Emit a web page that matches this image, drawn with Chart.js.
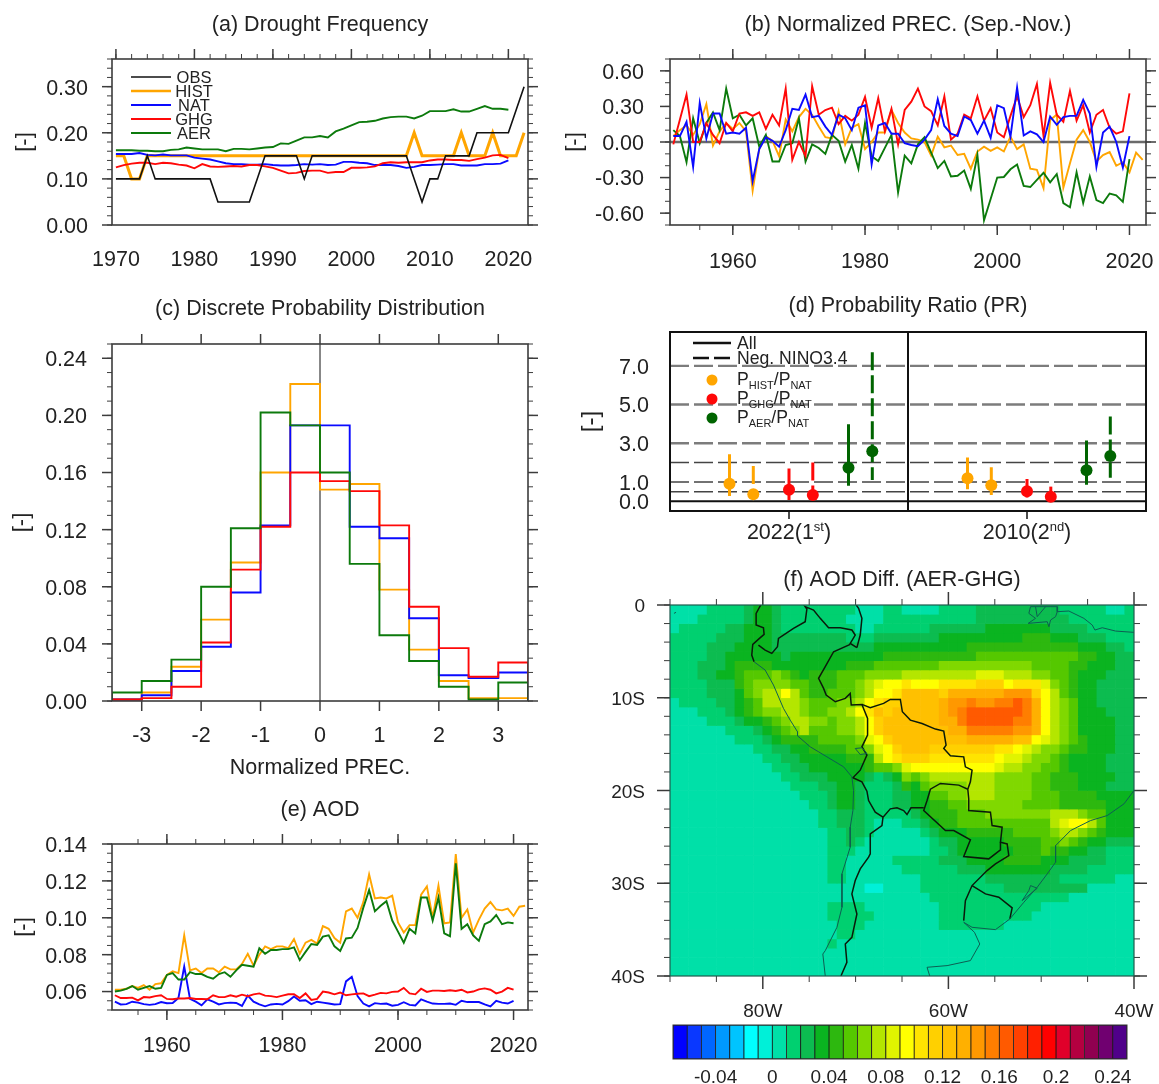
<!DOCTYPE html>
<html><head><meta charset="utf-8">
<style>
html,body{margin:0;padding:0;background:#fff;width:1159px;height:1084px;overflow:hidden}
canvas{position:absolute;filter:blur(0.35px)}
</style>
<script src="https://cdn.jsdelivr.net/npm/chart.js@4/dist/chart.umd.js"></script>
</head><body>
<script>
// ---------- panel (a) Drought Frequency, 1970-2022 ----------
const aStartYear = 1970;
const aOBS = [.10,.10,.10,.10,.15,.10,.10,.10,.10,.10,.10,.10,.10,.05,.05,.05,.05,.05,.10,.15,.15,.15,.15,.15,.10,.15,.15,.15,.15,.15,.15,.15,.15,.15,.15,.15,.15,.15,.10,.05,.10,.10,.15,.15,.15,.15,.20,.20,.20,.20,.20,.25,.30];
const aHIST = [.15,.15,.10,.10,.15,.15,.15,.15,.15,.15,.15,.15,.15,.15,.15,.15,.15,.15,.15,.15,.15,.15,.15,.15,.15,.15,.15,.15,.15,.15,.15,.15,.15,.15,.15,.15,.15,.15,.20,.15,.15,.15,.15,.15,.20,.15,.15,.15,.20,.15,.15,.15,.20];
const aNAT = [.154,.154,.154,.156,.152,.151,.153,.151,.151,.151,.146,.144,.142,.138,.134,.132,.132,.131,.131,.132,.130,.129,.129,.130,.132,.131,.132,.130,.131,.137,.137,.135,.134,.130,.130,.130,.128,.124,.126,.130,.130,.131,.132,.132,.129,.129,.129,.132,.132,.133,.140];
const aGHG = [.125,.130,.133,.135,.135,.132,.135,.134,.131,.129,.123,.132,.127,.126,.127,.128,.127,.130,.130,.127,.124,.118,.112,.113,.117,.118,.118,.113,.115,.115,.124,.124,.125,.127,.134,.136,.135,.136,.136,.136,.140,.142,.142,.141,.141,.139,.143,.146,.151,.152,.145];
const aAER = [.162,.162,.162,.161,.161,.160,.160,.163,.164,.168,.166,.164,.164,.164,.160,.165,.165,.164,.166,.168,.169,.177,.176,.183,.190,.190,.193,.190,.203,.209,.216,.223,.224,.226,.231,.234,.235,.235,.231,.237,.247,.247,.247,.251,.246,.246,.252,.258,.252,.252,.250];
const aXMajor = [1970,1980,1990,2000,2010,2020];
const aYMajor = [0,.1,.2,.3];
const aLegend = ['OBS','HIST','NAT','GHG','AER'];

// ---------- panel (b) Normalized PREC., 1951-2022 ----------
const bStartYear = 1951;
const bHIST = [.05,.10,.14,.06,.15,.32,-.03,.09,.16,.11,.16,.09,-.41,-.06,.05,.01,-.12,.19,.09,.21,.28,.23,.13,.04,.03,.26,-.02,.12,.15,-.06,0,.08,.08,.27,.16,.08,.03,.02,0,-.115,.045,-.045,-.03,-.11,-.10,-.225,-.08,-.04,-.075,-.045,-.08,.045,-.06,-.02,-.225,-.235,-.39,.185,.23,-.385,-.18,.02,.10,0,-.165,-.11,-.085,-.20,-.17,-.255,-.09,-.15];
const bNAT = [.05,.05,.17,-.21,.33,.03,.24,.24,.07,.08,.07,.12,-.33,-.06,.04,.01,-.04,.10,.28,.27,.40,.21,.22,.13,.06,.23,.20,.10,.29,.31,-.19,.14,.16,.07,.07,-.01,-.025,-.035,.02,.10,.36,.135,.07,.05,.215,.185,.07,.18,.035,.31,.285,.045,.46,.055,.09,.065,0,.215,.145,.21,.22,.22,.355,.24,-.21,.08,.13,0,-.215,.05];
const bGHG = [-.02,.19,.40,0,0,.16,.06,-.01,.16,.09,.24,.25,.22,.25,.11,.23,.14,.45,-.15,0,-.12,.47,.23,.27,.29,.15,.22,.18,.23,.38,.12,.37,.09,.28,-.02,.27,.34,.45,.30,.26,.14,.385,.02,.07,.23,.20,.385,.18,.285,.08,.04,.22,.385,.21,.31,.49,.05,.50,.23,.17,.43,.18,.31,.08,.23,.27,.12,.07,.09,.41];
const bAER = [.10,.05,-.17,.20,-.01,.16,.25,.10,.45,.20,.23,.14,.20,-.04,.06,-.165,-.165,-.025,-.01,.20,-.165,-.02,-.05,-.10,.06,.01,-.165,-.025,-.225,.16,-.12,-.16,-.05,.06,-.425,-.115,-.18,-.02,.04,-.09,-.22,-.16,-.29,-.285,-.24,-.395,-.11,-.66,-.48,-.30,-.295,-.23,-.19,-.37,-.38,-.32,-.26,-.34,-.27,-.515,-.55,-.255,-.515,-.29,-.49,-.515,-.435,-.45,-.505,-.145];
const bXMajor = [1960,1980,2000,2020];
const bYMajor = [-.6,-.3,0,.3,.6];

// ---------- panel (c) Discrete Probability Distribution ----------
const cEdges = [-3.5,-3,-2.5,-2,-1.5,-1,-.5,0,.5,1,1.5,2,2.5,3,3.5];
const cHIST = [.001,.006,.024,.057,.097,.160,.222,.148,.152,.078,.036,.014,.002,.002];
const cNAT  = [.001,.004,.021,.038,.076,.123,.193,.193,.122,.114,.058,.018,.016,.020];
const cGHG  = [.001,.002,.010,.041,.092,.122,.160,.154,.147,.123,.066,.037,.017,.027];
const cAER  = [.006,.014,.029,.080,.121,.202,.193,.160,.096,.046,.028,.010,.001,.013];
const cXMajor = [-3,-2,-1,0,1,2,3];
const cYMajor = [0,.04,.08,.12,.16,.2,.24];

// ---------- panel (d) Probability Ratio ----------
const dGroups = ['2022','2010'];
const dPos = [.25,.35,.5,.6,.75,.85,1.25,1.35,1.5,1.6,1.75,1.85];
const dBest = [.91,.36,.60,.33,1.74,2.59,1.19,.83,.52,.24,1.60,2.34];
const dLow  = [.28,.15,.07,.10,.81,1.10,.62,.33,.20,.07,.86,1.22];
const dHigh = [2.43,1.83,1.70,2.00,3.98,7.70,2.26,1.76,1.15,.76,3.14,4.38];
const dYTicks = [0,1,3,5,7];
const dRefGrey = [3,5,7];
const dRefDark = [.5,1,2];

// ---------- panel (e) AOD, 1951-2022 ----------
const eStartYear = 1951;
const eHIST = [.061,.061,.0615,.063,.062,.0635,.061,.064,.0645,.069,.071,.070,.0905,.0715,.0725,.070,.0725,.0725,.0705,.0735,.072,.072,.075,.0805,.074,.080,.0845,.083,.0845,.0845,.0835,.0885,.0805,.0865,.088,.086,.0955,.094,.089,.0865,.1035,.105,.100,.1085,.1235,.1105,.111,.1105,.112,.0975,.092,.096,.096,.1125,.117,.100,.1175,.097,.0975,.1345,.100,.1045,.092,.099,.105,.1085,.1045,.104,.105,.101,.106,.1065];
const eNAT = [.0545,.053,.0532,.0545,.054,.0532,.0528,.0532,.0543,.0537,.0538,.0565,.0735,.056,.0545,.0525,.0558,.0545,.053,.0537,.054,.0538,.0522,.0578,.0545,.053,.052,.053,.0533,.053,.0548,.0573,.055,.0553,.0532,.0545,.054,.0535,.053,.0532,.0655,.068,.0575,.0535,.052,.0537,.0533,.0535,.0523,.0528,.0542,.0528,.0525,.0558,.0545,.0535,.0533,.0533,.0535,.0528,.055,.0543,.0543,.0543,.053,.052,.055,.054,.0535,.055];
const eGHG = [.058,.0565,.0565,.0567,.0552,.057,.0568,.0575,.058,.056,.0558,.0563,.0562,.0565,.056,.056,.0558,.058,.057,.057,.058,.0572,.0583,.0575,.0585,.059,.0578,.0575,.057,.0578,.0585,.0585,.0565,.059,.0555,.056,.060,.0595,.0585,.0595,.058,.0585,.0588,.059,.0575,.0583,.0593,.059,.0598,.060,.062,.059,.0585,.0615,.0598,.0605,.0605,.0603,.0607,.0603,.061,.0595,.060,.0612,.0617,.061,.059,.060,.062,.061];
const eAER = [.060,.0605,.0615,.063,.061,.062,.063,.0615,.062,.069,.070,.0665,.0665,.0705,.0695,.0695,.068,.067,.0695,.0705,.068,.0715,.0745,.074,.0735,.0835,.0805,.0825,.0825,.083,.083,.084,.077,.0815,.0858,.0853,.0898,.0905,.0845,.082,.0888,.0892,.0945,.1055,.115,.1035,.1065,.109,.0985,.0925,.0865,.094,.0915,.111,.111,.0985,.111,.0915,.090,.1295,.094,.0965,.0905,.0875,.0965,.098,.1015,.0965,.0975,.097];
const eXMajor = [1960,1980,2000,2020];
const eYMajor = [.06,.08,.10,.12,.14];

// ---------- panel (f) AOD Diff. map: 1-degree cells, 90W-40W, 0-40S ----------
// each row is one latitude band, run-length coded colour-level indices (base 36 into cbColors)
const fRows = [
"7x4 8x4 9 ax2 9 8x8 7x3 8x2 7x4 8x4 9x9 8x5 7x2 8",
"7x3 8x5 9 ax2 9 8x3 8x4 7x4 8x2 8x8 9x10 8x7",
"7 8x5 9x2 ax3 9 8x8 7x2 8x3 8x3 9x6 ax7 9x4 8x5",
"8x5 9x3 ax3 9x8 8x3 9x3 9x4 ax9 bx3 ax3 9x3 8x3",
"8x4 9x3 ax4 9x11 ax3 ax7 bx12 ax3 9x2 8",
"8x4 9x2 ax6 9 ax10 bx2 bx8 cx11 bx2 ax2 9x2",
"8x3 9x3 a bx4 ax8 bx3 cx3 cx4 dx10 cx4 bx2 ax3 9x2",
"8x3 9x2 ax2 b cx3 d c b a bx3 cx3 d dx3 ex8 fx3 ex3 dx2 cx2 b ax3 9x3",
"8x4 9x3 b c dx2 dx2 cx2 b bx2 cx2 d e f gx2 h gx3 hx4 ix3 g hx3 f d c b ax2 9x4",
"8x4 9x3 a c d ex2 g e c bx2 cx3 d e gx2 h jx4 i kx6 lx3 i g e c b ax2 9x4",
"7 8x4 9x2 a b c ex3 e d cx3 dx2 e g h ix2 jx4 k lx2 m lx2 mx2 n m k g e d c ax2 9x4",
"7x3 8x3 9 a b c d d e e d c c d d e g h j i j jx4 k l m nx6 m k g e d c ax3 9x3",
"7x4 8x3 9 a a b c d e e d d c d d e g i j j jx4 k k m nx5 mx2 k g e d c ax4 9x2",
"7x6 8x3 9 a b c d e c c c d d e g i j j jx5 k k mx5 lx2 k g e d c ax4 9x2",
"7x7 8x3 9 a bx4 cx4 d f g i j jx7 kx5 jx2 g f e d c b ax3 9x2",
"7x9 8x2 9x2 ax2 bx4 cx2 d f g i jx3 ix7 hx2 g f e d d c b b ax3 9x2",
"7x10 8x2 9x2 ax5 bx2 b e g h ix3 hx7 g f f e d d c b ax4 9x3",
"7x11 8x2 9x2 ax6 b c c d f gx9 f ex2 dx2 cx2 b ax4 9x3",
"7x12 8x2 9x3 ax4 9 8 9 a d c d ex7 dx4 cx2 bx3 ax4 9x2",
"7x13 8x3 9x2 ax2 9 8x3 9 b a c dx4 ex3 dx4 cx2 bx3 ax3 9x3",
"7x14 8x3 9 ax2 9 8x2 8 9x2 ax2 cx2 dx2 ex3 dx4 cx3 bx4 ax4",
"7x15 8x2 9 ax2 9 8x3 9 9 ax2 bx2 cx2 dx6 cx4 bx5 ax3",
"7x16 8x2 9x2 9 8x5 9 a bx3 cx3 dx7 ex3 d cx2 ax3",
"7x16 8x2 9x3 8 7x3 8x2 9 a bx2 cx10 e f gx2 e c ax3",
"7x17 8x2 9x2 8 7x5 8 9 a ax2 bx5 cx4 d ex2 d c b ax3",
"7x17 8x2 9 8 7x7 8 9x2 ax5 bx4 cx2 d c b ax2 9x3",
"7x17 8x3 7x8 8x2 9 ax6 bx3 c bx2 ax2 9x2 8x3",
"7x17 8x2 7x5 8x5 9x3 ax4 bx4 ax3 9x4 8x3",
"7x17 8x2 7x6 8x6 9x3 ax7 9x4 8x5",
"7x17 8x2 7x8 8x7 9x2 9x6 8x6 7x2",
"7x21 6x2 7x4 8x9 9x9 7x5",
"7x28 8x15 7x7",
"7x17 8x4 7x8 8x11 7x10",
"7x17 8x5 7x7 8x10 7x11",
"7x18 8x3 7x8 8x7 7x14",
"7x18 8x2 7x30",
"7x17 8 7x32",
"7x50","7x50","7x50"
];
const cbColors = ['#0000ff','#0a38ff','#0066ff','#0099ff','#00c4ff','#00ffff','#00f0d8','#00e0a8','#00d070','#0cbc50','#0ab420','#2db80f','#55c800','#80d800','#b4e600','#e0f400','#ffff00','#ffe400','#ffd000','#ffc000','#ffb000','#ff9800','#ff7e00','#ff5a00','#ff4000','#ff2000','#ff0000','#e0002a','#b40040','#900050','#700070','#50008a'];
const cbTickValues = [-.04,0,.04,.08,.12,.16,.2,.24];
const cbTickLabels = ['-0.04','0','0.04','0.08','0.12','0.16','0.2','0.24'];
const fLatMajor = [0,-10,-20,-30,-40];
const fLonMajor = [-80,-60,-40];
const fLonMinor = [-90,-85,-75,-70,-65,-55,-50,-45];
// lon/lat polylines
const fBorders = [
 [[-80.22,0],[-80.72,-.9],[-80.72,-2.16],[-79.93,-2.45],[-79.86,-3.17],[-80.36,-3.6],[-81.08,-4.24],[-81.19,-5.4],[-80.94,-6.12]],
 [[-80.47,-4.32],[-79.75,-4.86],[-79.03,-5.22],[-78.42,-4.5],[-78.31,-3.6],[-76.69,-2.52],[-75.43,-1.8],[-75.25,-.43],[-75.43,-.18],[-74.53,-.54],[-73.81,-1.44],[-72.91,-2.45],[-71.65,-2.45],[-70.4,-2.7],[-70.04,-3.24],[-70.58,-4.14],[-69.86,-4.6]],
 [[-69.93,0],[-69.68,-.36],[-69.32,-1.44],[-69.5,-3.24],[-69.86,-4.6]],
 [[-70.58,-4.24],[-72.37,-5.04],[-73.27,-6.65],[-73.99,-7.91],[-73.45,-8.99],[-73.17,-9.71],[-72.19,-10.43],[-71.11,-10.07],[-70.58,-9.53],[-70.47,-10.79],[-69.32,-10.72],[-68.71,-12.23],[-68.71,-14.03],[-69.32,-15.29],[-68.78,-16.19],[-69.5,-17.81],[-70.29,-18.63],[-69.32,-19.06],[-68.78,-20.07],[-68.6,-21.08],[-67.88,-22.34],[-67.05,-22.88]],
 [[-69.32,-10.72],[-68.42,-11.08],[-66.98,-10.61],[-66.26,-10.18],[-65.18,-10.18],[-64.96,-11.51],[-64.1,-12.41],[-62.84,-12.77],[-61.4,-13.38],[-60.5,-13.6],[-60.25,-15.11],[-60.5,-15.47],[-59.78,-16.26],[-58.35,-16.37],[-58.17,-17.45],[-57.45,-17.81],[-57.63,-19.06],[-57.91,-19.86],[-57.81,-20.9],[-57.81,-22.16],[-55.47,-22.34],[-55.29,-23.78],[-54.21,-23.96],[-54.39,-25.58],[-53.67,-25.76],[-53.49,-27.01],[-54.93,-27.91],[-55.83,-28.63],[-57.45,-30.25],[-58.17,-31.87],[-58.35,-34.03]],
 [[-57.91,-19.86],[-58.88,-19.42],[-60.86,-19.24],[-61.94,-19.86],[-62.3,-21.08],[-62.66,-22.16],[-60.32,-24.32],[-59.42,-24.32],[-57.63,-25.32],[-58.35,-27.12],[-55.65,-27.37],[-54.39,-26.4],[-54.39,-25.58]],
 [[-62.66,-21.87],[-64.03,-21.87],[-64.46,-22.59],[-64.82,-22.16],[-65.54,-21.87],[-66.26,-21.98],[-67.05,-22.88],[-67.16,-23.78],[-68.42,-24.68],[-68.42,-26.83],[-68.6,-27.19],[-69.5,-28.45],[-70.04,-29.71],[-70.4,-31.15],[-69.86,-33.31],[-70.4,-35.83],[-71.11,-36.55],[-70.94,-38.53],[-71.58,-40]],
 [[-57.45,-30.25],[-56.01,-31.15],[-54.57,-31.51],[-53.13,-32.66],[-53.38,-33.85]]
];
const fCoasts = [
 [[-80.94,-6.12],[-79.75,-7.01],[-78.85,-8.63],[-77.77,-11.15],[-77.05,-12.41],[-76.26,-13.67],[-76.26,-14.1],[-74.89,-15.29],[-73.09,-16.37],[-71.29,-17.45],[-70.4,-18.53],[-70.22,-20],[-70.29,-22.16],[-70.58,-23.96],[-70.58,-26.11],[-71.47,-28.99],[-71.47,-32.59],[-72.01,-34.75],[-73.27,-37.27],[-73.53,-37.63],[-73.27,-40]],
 [[-58.35,-34.21],[-57.45,-34.75],[-54.93,-35],[-53.38,-33.85]],
 [[-58.35,-34.21],[-57.19,-35.29],[-56.62,-36.55],[-57.63,-38.34],[-60.14,-38.88],[-62.3,-39.06],[-62.01,-40]],
 [[-40,-20],[-41.08,-21.44],[-42.88,-22.7],[-44.68,-23.24],[-46.84,-24.32],[-48.45,-25.94],[-48.45,-27.73],[-49.35,-28.99],[-50.43,-30.43],[-51.87,-32.05],[-53.38,-33.85]],
 [[-51.15,-30.25],[-50.43,-30.54],[-52.05,-31.87],[-51.33,-30.79],[-51.15,-30.25]],
 [[-48.27,-.72],[-47.02,-.65],[-45.4,-1.44],[-44.5,-2.16],[-44.21,-2.7],[-43.42,-2.45],[-41.98,-2.81],[-40,-2.95]],
 [[-48.27,-.72],[-48.45,-1.26],[-48.99,-1.62],[-49.17,-2.34],[-49.35,-1.8],[-51.4,-1.98],[-50.61,-1.44],[-51.33,-.9],[-51.15,-.18],[-48.27,-.18],[-48.27,-.72]],
 [[-50.61,-.18],[-50.43,-1.26],[-49.53,-.18]],
 [[-70.04,-15.47],[-69.32,-15.4],[-68.78,-16.01],[-69.5,-16.12],[-70.04,-15.47]],
 [[-89.57,-.9],[-89.35,-.79]]
];

// ---------- shared style ----------
const FONT = "'Liberation Sans', Arial, sans-serif";
const TXT = '#222222';
const ORANGE='#ffa500', BLUE='#0a0aff', RED='#ff0808', GREEN='#0c7a0c', BLACK='#111111', DGREEN='#006400';
Chart.defaults.font.family = FONT;
Chart.defaults.color = TXT;

const range = (a,b,s)=>{const o=[];for(let i=0;a+i*s<=b+1e-9;i++)o.push(+(a+i*s).toFixed(4));return o;};
const series = (start,vals)=>vals.map((v,i)=>({x:start+i,y:v}));
const lineDs = (data,color,width,i,extra)=>Object.assign({type:'line',data,borderColor:color,backgroundColor:color,borderWidth:width,pointRadius:0,tension:0,fill:false,order:-i,borderJoinStyle:'miter'},extra||{});
const twoPts = (x0,y0,x1,y1)=>[{x:x0,y:y0},{x:x1,y:y1}];

function axis(o){
  return {
    type:'linear',min:o.min,max:o.max,display:o.display!==false,position:o.position,offset:false,
    grid:{display:false,drawTicks:false,offset:false},border:{display:false},
    title:o.title?{display:true,text:o.title,font:{size:o.titleSize||22},color:TXT,padding:o.titlePad}:{display:false},
    ticks:{display:o.showLabels!==false,autoSkip:false,maxRotation:0,minRotation:0,padding:o.pad,labelOffset:o.labelOffset||0,font:{size:o.size||21.5},color:TXT,callback:o.fmt},
    afterBuildTicks:s=>{ if(o.ticks) s.ticks=o.ticks.map(v=>({value:v})); },
    afterFit:s=>{ if(o.w!==undefined) s.width=o.w; if(o.h!==undefined) s.height=o.h; }
  };
}

// frame and tick marks, positioned through the chart's own scales
function framePlugin(f){
  return {id:'frame',afterDraw(chart){
    const c=chart.ctx,a=chart.chartArea,xs=chart.scales[f.xId||'x'],ys=chart.scales.y;
    c.save();
    const ml=f.majorLen||10, nl=f.minorLen||5, col=f.color||'#3c3c3c';
    const mark=(x0,y0,x1,y1,w)=>{c.lineWidth=w;c.beginPath();c.moveTo(x0,y0);c.lineTo(x1,y1);c.stroke();};
    c.strokeStyle=col;
    const xt=(vals,len,w)=>(vals||[]).forEach(v=>{const p=xs.getPixelForValue(v);
      if(f.top!==false) mark(p,a.top,p,a.top-len,w);
      if(f.bottom!==false) mark(p,a.bottom,p,a.bottom+len,w);});
    const yt=(vals,len,w)=>(vals||[]).forEach(v=>{const p=ys.getPixelForValue(v);
      if(f.left!==false) mark(a.left,p,a.left-len,p,w);
      if(f.right!==false) mark(a.right,p,a.right+len,p,w);});
    xt(f.xMinor,nl,1); xt(f.xMajor,ml,1.5); yt(f.yMinor,nl,1); yt(f.yMajor,f.yMajorLen||ml,1.5);
    c.lineWidth=f.lw||1.6; c.strokeStyle=f.frameColor||col;
    c.strokeRect(a.left,a.top,a.right-a.left,a.bottom-a.top);
    c.restore();
  }};
}

function panel(p){
  const cv=document.createElement('canvas');
  const W=p.r-p.l+p.lm+p.rm, H=p.b-p.t+p.tm+p.bm;
  cv.width=W;cv.height=H;
  cv.style.left=(p.l-p.lm)+'px';cv.style.top=(p.t-p.tm)+'px';
  cv.style.width=W+'px';cv.style.height=H+'px';
  document.body.appendChild(cv);
  const titleBlock=p.title?{display:true,text:p.title,font:{size:21.5,weight:'normal'},color:TXT,padding:{top:2,bottom:p.tm-2-25.8}}:{display:false};
  // an empty right-hand axis keeps the plot margin symmetric, so titles centre over the plot
  p.scales.yr=axis({min:0,max:1,position:'right',ticks:[],showLabels:false,pad:0,w:p.rm});
  return new Chart(cv.getContext('2d'),{
    type:p.type||'line',
    data:{labels:p.labels,datasets:p.datasets},
    options:{responsive:false,animation:false,devicePixelRatio:1,
      layout:{autoPadding:false,padding:{left:0,right:0,top:p.title?0:p.tm,bottom:0}},
      plugins:{legend:{display:false},tooltip:{enabled:false},title:titleBlock},
      scales:p.scales,
      elements:{line:{borderCapStyle:'butt'}}
    },
    plugins:p.plugins
  });
}

const LM=110,RM=110,LO=2;

// ---------- (a) ----------
function legendA(){return {id:'legA',afterDraw(ch){
  const c=ch.ctx,ox=ch.canvas.offsetLeft,oy=ch.canvas.offsetTop;
  const cols=[BLACK,ORANGE,BLUE,RED,GREEN],w=[1.5,2.4,2,2,2];
  c.save();c.font="16.5px "+FONT;c.textAlign='center';c.textBaseline='middle';
  aLegend.forEach((t,i)=>{const y=77+14*i-oy;
    c.strokeStyle=cols[i];c.lineWidth=w[i];c.beginPath();c.moveTo(131-ox,y);c.lineTo(171-ox,y);c.stroke();
    c.fillStyle=TXT;c.fillText(t,194-ox,y+1);});
  c.restore();
}};}
panel({title:'(a) Drought Frequency',l:112,r:528,t:59,b:225,lm:LM,rm:RM,tm:49,bm:60,
  datasets:[
    lineDs(series(aStartYear,aHIST),ORANGE,3,0),
    lineDs(series(aStartYear,aNAT),BLUE,1.9,1),
    lineDs(series(aStartYear,aGHG),RED,1.9,2),
    lineDs(series(aStartYear,aAER),GREEN,1.9,3),
    lineDs(series(aStartYear,aOBS),BLACK,1.6,4)
  ],
  scales:{
    x:axis({min:1969.5,max:2022.5,ticks:aXMajor,pad:22,fmt:v=>String(v),h:60}),
    y:axis({min:0,max:.36,ticks:aYMajor,pad:24,labelOffset:LO,fmt:v=>v.toFixed(2),w:LM,title:'[-]',titlePad:{top:9.8,bottom:0}})
  },
  plugins:[framePlugin({xMajor:aXMajor,xMinor:range(1970,2022,2),yMajor:aYMajor,yMinor:range(0,.36,.02),bottom:false}),legendA()]
});

// ---------- (b) ----------
panel({title:'(b) Normalized PREC. (Sep.-Nov.)',l:670,r:1146,t:59,b:225,lm:LM,rm:RM,tm:49,bm:60,
  datasets:[
    lineDs(twoPts(1950.5,0,2022.5,0),'#6a6a6a',2.4,-1),
    lineDs(series(bStartYear,bHIST),ORANGE,1.9,0),
    lineDs(series(bStartYear,bAER),GREEN,1.9,1),
    lineDs(series(bStartYear,bGHG),RED,1.9,2),
    lineDs(series(bStartYear,bNAT),BLUE,1.9,3)
  ],
  scales:{
    x:axis({min:1950.5,max:2022.5,ticks:bXMajor,pad:24,fmt:v=>String(v),h:60}),
    y:axis({min:-.7,max:.7,ticks:bYMajor,pad:26,labelOffset:LO,fmt:v=>v.toFixed(2),w:LM,title:'[-]',titlePad:{top:1.8,bottom:0}})
  },
  plugins:[framePlugin({xMajor:bXMajor,xMinor:range(1955,2020,5),yMajor:bYMajor,yMinor:range(-.7,.7,.1)})]
});

// ---------- (c) ----------
const steps=vals=>{const o=[{x:cEdges[0],y:0}];vals.forEach((v,i)=>o.push({x:cEdges[i],y:v}));o.push({x:cEdges[vals.length],y:vals[vals.length-1]});o.push({x:cEdges[vals.length],y:0});return o;};
panel({title:'(c) Discrete Probability Distribution',l:112,r:528,t:344,b:701,lm:LM,rm:RM,tm:50,bm:90,
  datasets:[
    lineDs(twoPts(0,0,0,.25),'#111111',1,-1),
    lineDs(steps(cHIST),ORANGE,1.9,0,{stepped:'before'}),
    lineDs(steps(cNAT),BLUE,1.9,1,{stepped:'before'}),
    lineDs(steps(cGHG),RED,1.9,2,{stepped:'before'}),
    lineDs(steps(cAER),GREEN,1.9,3,{stepped:'before'})
  ],
  scales:{
    x:axis({min:-3.5,max:3.5,ticks:cXMajor,pad:22,fmt:v=>String(v),h:90,title:'Normalized PREC.',titleSize:21.5,titlePad:{top:0,bottom:10.5}}),
    y:axis({min:0,max:.25,ticks:cYMajor,pad:25,labelOffset:LO,fmt:v=>v.toFixed(2),w:LM,title:'[-]',titlePad:{top:6.8,bottom:0}})
  },
  plugins:[framePlugin({xMajor:cXMajor,yMajor:cYMajor,yMinor:range(0,.25,.01)})]
});

// ---------- (d) ----------
function legendD(){return {id:'legD',afterDraw(ch){
  const c=ch.ctx,ox=ch.canvas.offsetLeft,oy=ch.canvas.offsetTop,S=17.6,s=11;
  c.save();c.textBaseline='alphabetic';c.textAlign='left';c.fillStyle=TXT;
  const run=(parts,x,y)=>{parts.forEach(([t,sz,dy])=>{c.font=sz+"px "+FONT;c.fillText(t,x,y+dy);x+=c.measureText(t).width;});return x;};
  c.strokeStyle='#111';c.lineWidth=2.4;
  c.beginPath();c.moveTo(693-ox,343-oy);c.lineTo(731-ox,343-oy);c.stroke();
  c.setLineDash([16,5]);c.beginPath();c.moveTo(693-ox,358-oy);c.lineTo(731-ox,358-oy);c.stroke();c.setLineDash([]);
  run([['All',S,0]],737-ox,349-oy);
  run([['Neg. NINO3.4',S,0]],737-ox,364-oy);
  [['HIST',ORANGE,380],['GHG',RED,399],['AER',DGREEN,418]].forEach(([n,col,y])=>{
    c.fillStyle=col;c.beginPath();c.arc(712-ox,y-oy,5.5,0,Math.PI*2);c.fill();c.fillStyle=TXT;
    run([['P',S,0],[n,s,4],['/',S,0],['P',S,0],['NAT',s,4]],737-ox,y+5-oy);
  });
  // category labels with ordinal superscripts, centred on the group position of the x scale
  [[.5,dGroups[0]+'(1','st'],[1.5,dGroups[1]+'(2','nd']].forEach(([v,t,sup])=>{
    const px=ch.scales.x.getPixelForValue(v);
    c.font="21.5px "+FONT;const w1=c.measureText(t).width,w3=c.measureText(')').width;
    c.font="13px "+FONT;const w2=c.measureText(sup).width;
    run([[t,21.5,0],[sup,13,-8],[')',21.5,0]],px-(w1+w2+w3)/2,539-oy);
  });
  c.restore();
}};}
const dColor=i=>[ORANGE,ORANGE,RED,RED,DGREEN,DGREEN][i%6];
const dDatasets=[];
dRefGrey.forEach(v=>dDatasets.push(lineDs(twoPts(0,v,2,v),'#7c7c7c',2.4,-3,{borderDash:[19,5]})));
dRefDark.forEach(v=>dDatasets.push(lineDs(twoPts(0,v,2,v),'#444444',1.5,-3,{borderDash:[19,5]})));
dDatasets.push(lineDs(twoPts(0,0,2,0),'#111111',2,-2));
dDatasets.push(lineDs(twoPts(1,-.5,1,8.75),'#111111',2,-2));
dPos.forEach((x,i)=>dDatasets.push(lineDs(twoPts(x,dHigh[i],x,dLow[i]),dColor(i),3,1,i%2?{borderDash:[18,5]}:{})));
dPos.forEach((x,i)=>dDatasets.push({type:'scatter',data:[{x,y:dBest[i]}],backgroundColor:dColor(i),borderColor:dColor(i),pointRadius:6,borderWidth:0,order:-5}));
panel({title:'(d) Probability Ratio (PR)',l:670,r:1146,t:332,b:511,lm:LM,rm:RM,tm:41,bm:50,
  datasets:dDatasets,
  scales:{
    x:axis({min:0,max:2,ticks:[.5,1.5],showLabels:false,pad:0,h:50}),
    y:axis({min:-.5,max:8.75,ticks:dYTicks,pad:21,labelOffset:LO,fmt:v=>v.toFixed(1),w:LM,title:'[-]',titleSize:24,titlePad:{top:16.6,bottom:0}})
  },
  plugins:[framePlugin({xMajor:[.5,1.5],majorLen:8,top:false,left:false,right:false,yMajor:[],color:'#111',lw:2}),legendD()]
});

// ---------- (e) ----------
panel({title:'(e) AOD',l:112,r:528,t:844,b:1010,lm:LM,rm:RM,tm:49,bm:60,
  datasets:[
    lineDs(series(eStartYear,eHIST),ORANGE,1.9,0),
    lineDs(series(eStartYear,eNAT),BLUE,1.9,1),
    lineDs(series(eStartYear,eGHG),RED,1.9,2),
    lineDs(series(eStartYear,eAER),GREEN,1.9,3)
  ],
  scales:{
    x:axis({min:1950.5,max:2022.5,ticks:eXMajor,pad:23,fmt:v=>String(v),h:60}),
    y:axis({min:.05,max:.14,ticks:eYMajor,pad:25,labelOffset:LO,fmt:v=>v.toFixed(2),w:LM,title:'[-]',titlePad:{top:8.8,bottom:0}})
  },
  plugins:[framePlugin({xMajor:eXMajor,xMinor:range(1955,2020,5),yMajor:eYMajor,yMinor:range(.05,.14,.005)})]
});

// ---------- (f) ----------
const decodeRow=r=>r.split(' ').map(t=>{const [c,n]=t.split('x');return c.repeat(n?+n:1);}).join('');
const fLons=range(-89.5,-40.5,1);
const fDatasets=fRows.map((row,i)=>{
  const codes=decodeRow(row);
  return {type:'bar',xAxisID:'x',yAxisID:'y',grouped:false,order:10,barPercentage:1,categoryPercentage:1,borderWidth:0,
    data:fLons.map(()=>[-i-1,-i]),
    backgroundColor:[...codes].map(c=>cbColors[parseInt(c,36)])};
});
const poly=pl=>pl.map(([x,y])=>({x,y}));
fCoasts.forEach(pl=>fDatasets.push(lineDs(poly(pl),'#0d5f52',1,-1,{xAxisID:'xl',yAxisID:'y'})));
fBorders.forEach(pl=>fDatasets.push(lineDs(poly(pl),'#0a1a0a',1.5,-2,{xAxisID:'xl',yAxisID:'y'})));
panel({type:'bar',title:'(f) AOD Diff. (AER-GHG)',l:670,r:1134,t:605,b:976,lm:LM,rm:RM,tm:40,bm:50,labels:fLons,
  datasets:fDatasets,
  scales:{
    x:{type:'category',display:false,offset:true,grid:{display:false}},
    xl:axis({min:-90,max:-40,ticks:fLonMajor,pad:24.6,size:19,fmt:v=>Math.abs(v)+'W',h:50,position:'bottom'}),
    y:axis({min:-40,max:0,ticks:fLatMajor,pad:25,size:19,labelOffset:LO,fmt:v=>v===0?'0':Math.abs(v)+'S',w:LM})
  },
  plugins:[framePlugin({xId:'xl',xMajor:[...fLonMajor],xMinor:fLonMinor,yMajor:fLatMajor,yMinor:range(-40,0,2),majorLen:13,minorLen:6,color:'#3a3a3a',frameColor:'#1f5a4e',lw:1.2})]
});

// ---------- colour bar ----------
const cbLabels=cbColors.map((_,i)=>String(i));
panel({type:'bar',l:673,r:1127,t:1025,b:1059,lm:LM,rm:RM,tm:4,bm:25,labels:cbLabels,
  datasets:[{type:'bar',xAxisID:'x',yAxisID:'y',barPercentage:1,categoryPercentage:1,data:cbColors.map(()=>[0,1]),backgroundColor:cbColors,borderColor:'#1a1a1a',borderWidth:.8,borderSkipped:false}],
  scales:{
    x:{type:'category',display:false,offset:true,grid:{display:false}},
    xl:axis({min:-.07,max:.25,ticks:cbTickValues,pad:7.3,size:19,fmt:v=>cbTickLabels[cbTickValues.findIndex(t=>Math.abs(t-v)<1e-6)],h:25,position:'bottom'}),
    y:axis({min:0,max:1,ticks:[],showLabels:false,pad:0,w:LM})
  },
  plugins:[framePlugin({xId:'xl',top:false,bottom:false,left:false,right:false,color:'#333',lw:1})]
});
</script>
</body></html>
